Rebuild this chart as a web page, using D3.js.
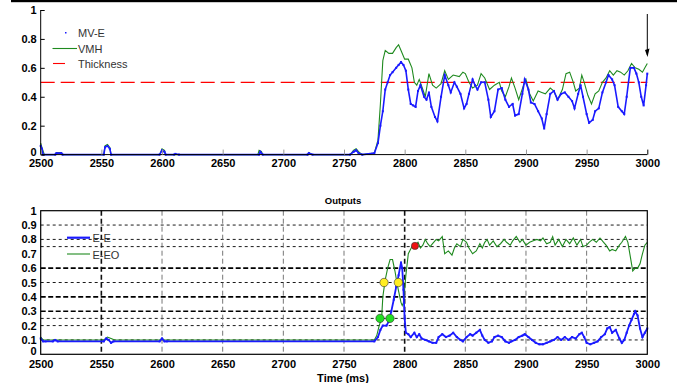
<!DOCTYPE html>
<html><head><meta charset="utf-8">
<script src="https://cdn.jsdelivr.net/npm/d3@7"></script>
<style>
body{margin:0;background:#fff;}
svg{display:block;}
text{font-family:"Liberation Sans",Arial,sans-serif;}
</style></head>
<body><svg id="c" width="681" height="383"></svg>
<script>
// ---------- DATA ----------
const xTicks = [2500,2550,2600,2650,2700,2750,2800,2850,2900,2950,3000];
const yTicksTop = [0,0.2,0.4,0.6,0.8,1];
const yTicksBot = [0,0.1,0.2,0.3,0.4,0.5,0.6,0.7,0.8,0.9,1];
const thickness = 0.5;

// Top panel: MV-E (blue)
const mveT = [2500,2501,2502,2512,2513,2517,2518,2552,2553,2555,2557,2558,2598,2600,2602,2603,2610,2611,2614,2680,2681,2683,2720,2721,2724,2755,2758,2760,2762,2765,2775,
 2778,2780,2782,2784,2786,2788,2790,2793,2795,2797,2799,2801,2803,2805,2807,2809,2811,2813,2816,2818,2820,2822,2825,2827,2830,2833,2836,2838,2841,2843,2846,2849,2851,2853,2856,2858,2860,2863,2866,2869,2871,2874,2877,2880,2883,2886,2889,2891,2894,2897,2899,2902,2904,2907,2910,2913,2915,2917,2920,2923,2926,2929,2932,2935,2938,2940,2943,2945,2947,2950,2952,2955,2957,2960,2963,2966,2968,2971,2973,2976,2979,2981,2983,2986,2989,2991,2993,2995,2997,2999,3000];
const mveV = [0.06,0.04,0,0,0.01,0.01,0,0,0.05,0.06,0.04,0,0,0.03,0.02,0,0,0.005,0,0,0.02,0,0,0.01,0,0,0.02,0.03,0.01,0,0.01,
 0.08,0.2,0.3,0.45,0.5,0.55,0.57,0.6,0.62,0.64,0.62,0.58,0.45,0.35,0.34,0.33,0.44,0.48,0.4,0.38,0.43,0.33,0.26,0.23,0.4,0.55,0.48,0.43,0.5,0.47,0.42,0.32,0.35,0.42,0.52,0.48,0.45,0.5,0.5,0.38,0.26,0.3,0.45,0.46,0.38,0.33,0.35,0.27,0.28,0.42,0.52,0.45,0.36,0.35,0.3,0.25,0.18,0.28,0.42,0.44,0.38,0.42,0.43,0.4,0.37,0.32,0.42,0.48,0.4,0.28,0.22,0.24,0.3,0.32,0.43,0.5,0.55,0.52,0.48,0.33,0.3,0.28,0.4,0.6,0.6,0.56,0.5,0.4,0.34,0.48,0.56];

// Top panel: VMH (green)
const vmhT = [2500,2501,2503,2512,2513,2517,2518,2552,2553,2555,2557,2558,2598,2600,2602,2603,2679,2680,2682,2683,2720,2721,2724,2755,2758,2760,2762,2765,2775,
 2778,2780,2782,2784,2787,2790,2793,2795,2797,2800,2803,2806,2808,2810,2812,2815,2817,2820,2823,2826,2830,2833,2836,2840,2845,2848,2850,2853,2856,2860,2863,2866,2870,2874,2878,2880,2883,2886,2888,2891,2894,2898,2900,2903,2906,2910,2913,2916,2920,2923,2926,2930,2933,2936,2939,2941,2944,2946,2948,2951,2954,2957,2960,2963,2966,2969,2972,2975,2978,2981,2984,2987,2990,2993,2996,2998,3000];
const vmhV = [0.08,0.05,0,0,0.015,0.015,0,0,0.06,0.07,0.05,0,0,0.04,0.03,0,0,0.03,0.02,0,0,0.015,0,0,0.03,0.04,0.02,0,0.01,
 0.1,0.35,0.65,0.72,0.7,0.7,0.74,0.76,0.72,0.66,0.66,0.6,0.5,0.48,0.52,0.45,0.4,0.56,0.48,0.46,0.49,0.58,0.52,0.55,0.54,0.57,0.56,0.5,0.46,0.48,0.56,0.53,0.45,0.48,0.5,0.44,0.4,0.47,0.53,0.46,0.38,0.48,0.52,0.42,0.37,0.44,0.43,0.42,0.46,0.44,0.38,0.45,0.56,0.57,0.5,0.44,0.46,0.55,0.5,0.41,0.35,0.42,0.44,0.5,0.53,0.58,0.55,0.58,0.57,0.55,0.58,0.63,0.6,0.59,0.57,0.6,0.63];

// Bottom panel "Outputs": E-E (blue)
const eeT = [2500,2502,2504,2510,2512,2514,2552,2554,2556,2558,2560,2598,2600,2602,2604,2775,
 2778,2780,2782,2785,2787,2789,2791,2793,2795,2797,2798,2799,2800,2801,2803,2805,2808,2810,2812,2814,2817,2820,2823,2826,2828,2831,2834,2837,2840,2843,2846,2848,2851,2854,2856,2859,2862,2864,2866,2869,2872,2874,2877,2880,2883,2886,2888,2891,2894,2897,2899,2902,2905,2908,2911,2914,2917,2920,2923,2926,2929,2932,2935,2938,2941,2944,2946,2948,2950,2953,2956,2959,2962,2965,2967,2969,2971,2974,2977,2979,2981,2983,2985,2987,2989,2990,2992,2994,2996,2998,3000];
const eeV = [0.11,0.09,0.09,0.09,0.1,0.09,0.09,0.11,0.1,0.08,0.09,0.09,0.11,0.09,0.09,0.09,
 0.12,0.17,0.2,0.2,0.23,0.3,0.38,0.47,0.55,0.64,0.6,0.45,0.25,0.15,0.14,0.12,0.15,0.12,0.14,0.11,0.1,0.09,0.08,0.08,0.12,0.14,0.12,0.13,0.15,0.12,0.1,0.09,0.12,0.14,0.13,0.15,0.17,0.13,0.1,0.08,0.09,0.12,0.13,0.12,0.09,0.08,0.09,0.1,0.12,0.13,0.14,0.12,0.1,0.08,0.07,0.07,0.08,0.09,0.1,0.12,0.1,0.12,0.1,0.12,0.11,0.14,0.15,0.12,0.08,0.07,0.08,0.09,0.12,0.14,0.18,0.19,0.15,0.17,0.11,0.08,0.1,0.15,0.2,0.24,0.28,0.3,0.27,0.18,0.12,0.15,0.18];

// Bottom panel: E-EO (green)
const eeoT = [2500,2502,2504,2552,2555,2558,2561,2598,2600,2602,2775,
 2777,2779,2781,2782,2784,2786,2788,2790,2792,2794,2796,2797,2798,2799,2801,2803,2806,2809,2811,2813,2815,2817,2819,2821,2823,2826,2828,2831,2833,2836,2839,2841,2843,2846,2848,2851,2853,2856,2859,2862,2864,2866,2868,2870,2873,2876,2879,2882,2884,2887,2889,2892,2895,2897,2900,2903,2906,2909,2912,2914,2917,2920,2922,2924,2927,2930,2933,2936,2939,2942,2945,2947,2950,2952,2955,2958,2961,2964,2966,2969,2971,2974,2977,2979,2982,2984,2986,2988,2990,2992,2994,2996,2998,3000];
const eeoV = [0.12,0.1,0.1,0.1,0.12,0.11,0.1,0.1,0.11,0.1,0.1,
 0.13,0.2,0.25,0.4,0.52,0.6,0.66,0.66,0.58,0.48,0.4,0.36,0.34,0.36,0.55,0.7,0.75,0.76,0.78,0.74,0.76,0.8,0.77,0.75,0.77,0.8,0.79,0.82,0.7,0.72,0.69,0.74,0.77,0.75,0.8,0.78,0.74,0.7,0.72,0.77,0.74,0.78,0.8,0.76,0.79,0.75,0.77,0.8,0.78,0.76,0.79,0.82,0.78,0.8,0.76,0.78,0.79,0.8,0.79,0.81,0.77,0.78,0.82,0.76,0.8,0.75,0.8,0.77,0.81,0.76,0.8,0.75,0.76,0.78,0.8,0.78,0.81,0.78,0.76,0.72,0.73,0.72,0.76,0.78,0.82,0.78,0.68,0.58,0.6,0.6,0.63,0.7,0.76,0.78];

// Event markers (time, value, colour)
const markT = [2779.7,2787.9,2783.0,2794.8,2808.5];
const markV = [0.25,0.25,0.5,0.5,0.755];
const markC = ["#22dd22","#22dd22","#ffee22","#ffee22","#ee1111"];

// grid levels in bottom panel
const gridY = [0.1,0.2,0.25,0.3,0.4,0.5,0.6,0.75,0.8,0.9];
const gridYBold = [0.3,0.4,0.6];
const gridX = [2550,2600,2650,2700,2750,2800,2850,2900,2950];
const gridXBold = [2550,2800];

// ---------- DRAW ----------
const svg = d3.select("#c");
const L = 40.7, R = 647.3;
const x = d3.scaleLinear([2500,3000],[L,R]);
const yT = d3.scaleLinear([0,1],[154.6,10]);
const yB = d3.scaleLinear([0,1],[354.3,210.7]);
const BLUE = "#1a1aff", GREEN = "#1f8a1f";
const zip = (t,v)=>t.map((d,i)=>[d,v[i]]);
const yFmt = d=>d===0?"0":d===1?"1":d3.format(".1f")(d);

// top black bar
svg.append("rect").attr("x",11).attr("y",0).attr("width",666).attr("height",2.2).attr("fill","#000");

// ===== top panel =====
const gT = svg.append("g");
gT.append("line").attr("x1",L).attr("x2",R).attr("y1",yT(thickness)).attr("y2",yT(thickness))
  .attr("stroke","#ff0000").attr("stroke-width",1.2).attr("stroke-dasharray","14,6");
const lineT = d3.line().x(d=>x(d[0])).y(d=>yT(d[1]));
gT.append("path").datum(zip(vmhT,vmhV)).attr("d",lineT).attr("fill","none").attr("stroke",GREEN).attr("stroke-width",1.1);
gT.append("path").datum(zip(mveT,mveV)).attr("d",lineT).attr("fill","none").attr("stroke",BLUE).attr("stroke-width",1.6);
gT.selectAll("rect.mk").data(zip(mveT,mveV)).enter().append("rect").attr("class","mk")
  .attr("x",d=>x(d[0])-1).attr("y",d=>yT(d[1])-1).attr("width",2).attr("height",2).attr("fill",BLUE);

const axB = d3.axisBottom(x).tickValues(xTicks).tickFormat(d3.format("d")).tickSize(-5).tickPadding(5);
const gxT = gT.append("g").attr("transform",`translate(0,${yT(0)})`).call(axB);
gxT.select(".domain").attr("stroke","#000").attr("d",`M${L},0H${R}`);
gxT.selectAll(".tick line").attr("stroke",d=>d===3000?"#000":"#999");
gxT.selectAll(".tick text").attr("y",5).attr("dy","0.71em");
const axL = d3.axisLeft(yT).tickValues(yTicksTop).tickFormat(yFmt).tickSize(-4).tickPadding(4);
const gyT = gT.append("g").attr("transform",`translate(${L},0)`).call(axL);
gyT.select(".domain").attr("d",`M0,${yT(0)}V${yT(1)}`);
gyT.selectAll(".tick text").filter(d=>d===0).attr("dy","0.05em");

// arrow
gT.append("line").attr("x1",647.3).attr("x2",647.3).attr("y1",14).attr("y2",55).attr("stroke","#000").attr("stroke-width",1);
gT.append("path").attr("d","M645,50 L649.5,48.5 L647.5,57 Z").attr("fill","#000");

// legend top
const lg = gT.append("g").attr("font-size",11).attr("fill","#333");
lg.append("rect").attr("x",65).attr("y",32).attr("width",1.5).attr("height",1.5).attr("fill",BLUE);
lg.append("text").attr("x",78).attr("y",37).text("MV-E");
lg.append("line").attr("x1",52.5).attr("x2",77).attr("y1",48.5).attr("y2",48.5).attr("stroke",GREEN).attr("stroke-width",1.1);
lg.append("text").attr("x",78).attr("y",53).text("VMH");
lg.append("line").attr("x1",53).attr("x2",65).attr("y1",63.5).attr("y2",63.5).attr("stroke","#ff0000").attr("stroke-width",1.1);
lg.append("text").attr("x",78).attr("y",68).text("Thickness");

// ===== bottom panel =====
const gB = svg.append("g");
gB.selectAll("line.gy").data(gridY).enter().append("line").attr("class","gy")
  .attr("x1",L).attr("x2",R).attr("y1",d=>yB(d)).attr("y2",d=>yB(d))
  .attr("stroke","#000")
  .attr("stroke-width",d=>gridYBold.includes(d)?1.6:0.9)
  .attr("stroke-dasharray",d=>gridYBold.includes(d)?"5,2.5":"3,3");
gB.selectAll("line.gx").data(gridX).enter().append("line").attr("class","gx")
  .attr("x1",d=>x(d)).attr("x2",d=>x(d)).attr("y1",yB(1)).attr("y2",yB(0))
  .attr("stroke",d=>gridXBold.includes(d)?"#111":"#777")
  .attr("stroke-width",d=>gridXBold.includes(d)?1.6:1)
  .attr("stroke-dasharray","5,3");

const lineB = d3.line().x(d=>x(d[0])).y(d=>yB(d[1]));
gB.append("path").datum(zip(eeoT,eeoV)).attr("d",lineB).attr("fill","none").attr("stroke",GREEN).attr("stroke-width",1.1);
gB.append("path").datum(zip(eeT,eeV)).attr("d",lineB).attr("fill","none").attr("stroke",BLUE).attr("stroke-width",1.8);
gB.selectAll("rect.mk").data(zip(eeT,eeV)).enter().append("rect").attr("class","mk")
  .attr("x",d=>x(d[0])-1).attr("y",d=>yB(d[1])-1).attr("width",2).attr("height",2).attr("fill",BLUE);

gB.selectAll("circle.ev").data(markT.map((t,i)=>({t,v:markV[i],c:markC[i]}))).enter().append("circle").attr("class","ev")
  .attr("cx",d=>x(d.t)).attr("cy",d=>yB(d.v)).attr("r",d=>d.c==="#ee1111"?3.6:4.2)
  .attr("fill",d=>d.c).attr("stroke","#333").attr("stroke-width",0.6);

gB.append("rect").attr("x",L).attr("y",yB(1)).attr("width",R-L).attr("height",yB(0)-yB(1))
  .attr("fill","none").attr("stroke","#000").attr("stroke-width",1.2);

const gxB = gB.append("g").attr("transform",`translate(0,${yB(0)})`)
  .call(d3.axisBottom(x).tickValues(xTicks).tickFormat(d3.format("d")).tickSize(0).tickPadding(6));
gxB.select(".domain").remove();
gxB.selectAll(".tick text").attr("y",5.5).attr("dy","0.71em");
const gyB = gB.append("g").attr("transform",`translate(${L},0)`)
  .call(d3.axisLeft(yB).tickValues(yTicksBot).tickFormat(yFmt).tickSize(0).tickPadding(4));
gyB.select(".domain").remove();
gyB.selectAll(".tick text").filter(d=>d===0).attr("dy","0.0em");

svg.selectAll(".tick text").attr("font-family","'Liberation Sans',Arial,sans-serif")
  .attr("font-size",11).attr("font-weight","bold").attr("fill","#000");

// legend bottom
const lb = gB.append("g").attr("font-size",11).attr("fill","#333");
lb.append("line").attr("x1",67).attr("x2",90).attr("y1",237.7).attr("y2",237.7).attr("stroke",BLUE).attr("stroke-width",2.2);
lb.append("text").attr("x",92.5).attr("y",242).text("E-E");
lb.append("line").attr("x1",67).attr("x2",90).attr("y1",254).attr("y2",254).attr("stroke",GREEN).attr("stroke-width",1.1);
lb.append("text").attr("x",92.5).attr("y",258.5).text("E-EO");

// titles
svg.append("text").attr("x",343).attr("y",203.5).attr("text-anchor","middle")
  .attr("font-size",9.5).attr("font-weight","bold").text("Outputs");
svg.append("text").attr("x",343).attr("y",382).attr("text-anchor","middle")
  .attr("font-size",11).attr("font-weight","bold").text("Time (ms)");
</script></body></html>
